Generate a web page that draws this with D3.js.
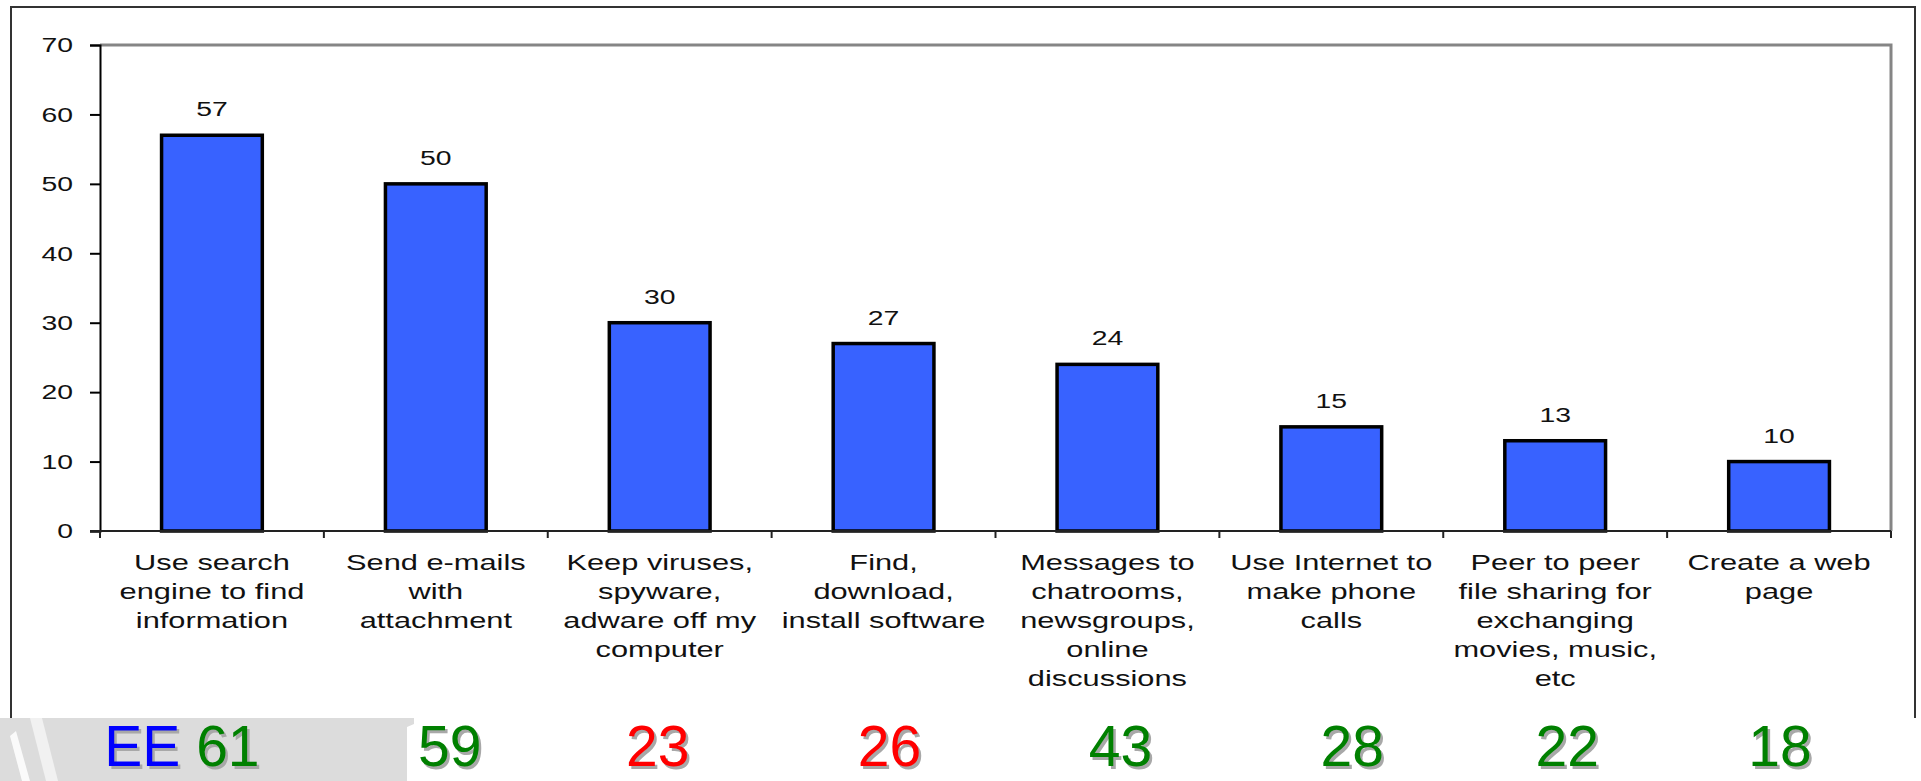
<!DOCTYPE html>
<html>
<head>
<meta charset="utf-8">
<script src="https://cdn.jsdelivr.net/npm/d3@7"></script>
<style>
  body { margin: 0; background: #fff; }
  svg { display: block; }
</style>
</head>
<body>
<script>
// survey answers, each category split into the label lines shown under the axis
const categories = [
  ['Use search', 'engine to find', 'information'],
  ['Send e-mails', 'with', 'attachment'],
  ['Keep viruses,', 'spyware,', 'adware off my', 'computer'],
  ['Find,', 'download,', 'install software'],
  ['Messages to', 'chatrooms,', 'newsgroups,', 'online', 'discussions'],
  ['Use Internet to', 'make phone', 'calls'],
  ['Peer to peer', 'file sharing for', 'exchanging', 'movies, music,', 'etc'],
  ['Create a web', 'page']
]
const values = [57, 50, 30, 27, 24, 15, 13, 10]
const eeValues = [61, 59, 23, 26, 43, 28, 22, 18]
const yTicks = [0, 10, 20, 30, 40, 50, 60, 70]

// the EE numbers were typed on the slide, not quite under the bars
const eeShift = [-30, 14, -2, 6, 13, 21, 12, 1]

const width = 1921
const height = 781
const font = '"Liberation Sans", Arial, sans-serif'
const keys = categories.map(d => d.join(' '))

const svg = d3.select('body').append('svg')
  .attr('width', width)
  .attr('height', height)

svg.append('rect').attr('width', width).attr('height', height).attr('fill', '#fff')

const x = d3.scaleBand()
  .domain(keys)
  .range([100, 1891])
  .paddingInner(0.55)
  .paddingOuter(0.275)

const y = d3.scaleLinear()
  .domain([0, 70])
  .range([531, 45])

// outer frame (top, left, right only)
svg.append('path')
  .attr('d', 'M11,718 V7 H1915 V718')
  .attr('fill', 'none')
  .attr('stroke', '#333')
  .attr('stroke-width', 2)

// plot area border, top and right
svg.append('path')
  .attr('d', `M${x.range()[0]},${y(70)} H${x.range()[1]} V${y(0)}`)
  .attr('fill', 'none')
  .attr('stroke', '#858585')
  .attr('stroke-width', 3)

// bars
svg.selectAll('rect.bar')
  .data(values)
  .join('rect')
  .attr('class', 'bar')
  .attr('x', (d, i) => x(keys[i]))
  .attr('y', d => y(d))
  .attr('width', x.bandwidth())
  .attr('height', d => y(0) - y(d))
  .attr('fill', '#3862ff')
  .attr('stroke', '#000')
  .attr('stroke-width', 3.5)

const numScale = 1.35
const catScale = 1.4

// y axis
const yAxis = svg.append('g')
  .attr('transform', `translate(${x.range()[0]},0)`)
  .call(d3.axisLeft(y).tickValues(yTicks).tickSize(10).tickPadding(17))
yAxis.select('.domain').attr('stroke', '#000').attr('stroke-width', 2)
yAxis.selectAll('.tick line').attr('stroke', '#000').attr('stroke-width', 2)
yAxis.selectAll('.tick text')
  .attr('font-family', font)
  .attr('font-size', 21)
  .attr('fill', '#111')
  .attr('x', -27 / numScale)
  .attr('transform', `scale(${numScale},1)`)

// x axis line with ticks between the bands
const bounds = d3.range(keys.length + 1).map(i => x.range()[0] + i * x.step())
svg.append('line')
  .attr('x1', x.range()[0] - 10).attr('x2', x.range()[1])
  .attr('y1', y(0)).attr('y2', y(0))
  .attr('stroke', '#222').attr('stroke-width', 2)
svg.selectAll('line.xtick')
  .data(bounds)
  .join('line')
  .attr('class', 'xtick')
  .attr('x1', d => d).attr('x2', d => d)
  .attr('y1', y(0)).attr('y2', y(0) + 7)
  .attr('stroke', '#222').attr('stroke-width', 2)

// value labels
svg.selectAll('g.val')
  .data(values)
  .join('g')
  .attr('class', 'val')
  .attr('transform', (d, i) => `translate(${x(keys[i]) + x.bandwidth() / 2},${y(d) - 19}) scale(${numScale},1)`)
  .append('text')
  .attr('text-anchor', 'middle')
  .attr('font-family', font)
  .attr('font-size', 21)
  .attr('fill', '#111')
  .text(d => d)

// category labels
const cat = svg.selectAll('g.cat')
  .data(categories)
  .join('g')
  .attr('class', 'cat')
  .attr('transform', (d, i) => `translate(${x(keys[i]) + x.bandwidth() / 2},570) scale(${catScale},1)`)
cat.selectAll('text')
  .data(d => d)
  .join('text')
  .attr('text-anchor', 'middle')
  .attr('y', (d, i) => i * 29)
  .attr('font-family', font)
  .attr('font-size', 22)
  .attr('fill', '#111')
  .text(d => d)

// grey banner at the bottom left of the slide
svg.append('path')
  .attr('d', 'M0,718 H414 V724 L407,727 V781 H0 Z')
  .attr('fill', '#dcdcdc')
svg.append('path')
  .attr('d', 'M10,736 L16,731 L30,781 L22,781 Z')
  .attr('fill', '#fff').attr('opacity', 0.85)
svg.append('path')
  .attr('d', 'M30,718 L42,718 L58,781 L46,781 Z')
  .attr('fill', '#fff').attr('opacity', 0.6)

// EE figures under each bar, green when EE is higher, red when lower
const green = '#008000'
const red = '#ff0000'
const ee = svg.selectAll('g.ee')
  .data(eeValues)
  .join('g')
  .attr('class', 'ee')
  .attr('transform', (d, i) => `translate(${x(keys[i]) + x.bandwidth() / 2 + eeShift[i]},766)`)

function eeText(sel, shadow) {
  const t = sel.append('text')
    .attr('text-anchor', 'middle')
    .attr('font-family', font)
    .attr('font-size', 57)
    .attr('x', shadow ? 2.5 : 0)
    .attr('y', shadow ? 2.5 : 0)
  t.filter((d, i) => i === 0).append('tspan')
    .attr('fill', shadow ? '#a8a8a8' : '#0000ff')
    .text('EE ')
  t.append('tspan')
    .attr('fill', (d, i) => shadow ? '#a8a8a8' : (d > values[i] ? green : red))
    .text(d => d)
}
eeText(ee, true)
eeText(ee, false)
</script>
</body>
</html>
